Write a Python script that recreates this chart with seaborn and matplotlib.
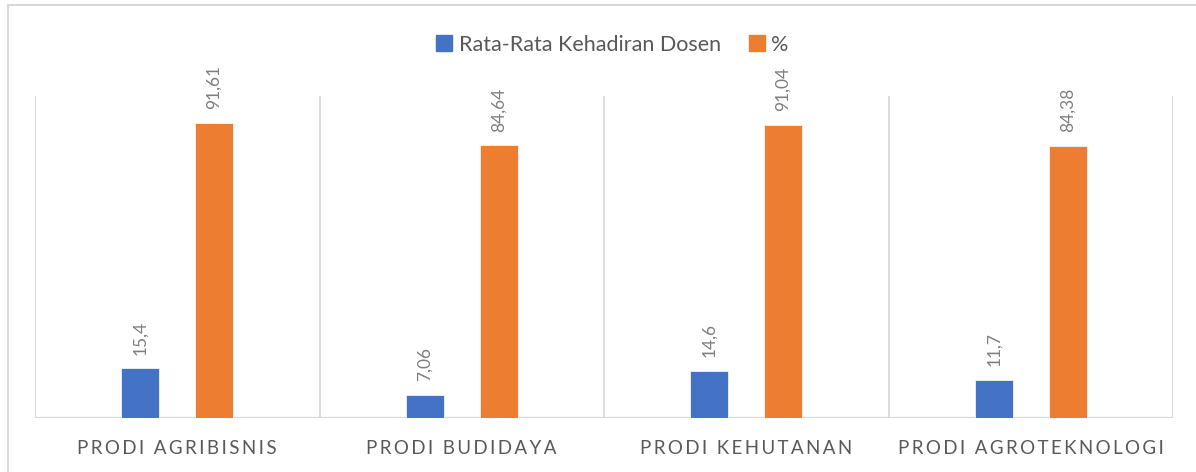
import matplotlib
matplotlib.use('Agg')
import matplotlib.pyplot as plt
from matplotlib.lines import Line2D
import seaborn as sns
import pandas as pd

# data
categories = ['PRODI AGRIBISNIS', 'PRODI BUDIDAYA', 'PRODI KEHUTANAN', 'PRODI AGROTEKNOLOGI']
series_names = ['Rata-Rata Kehadiran Dosen', '%']
kehadiran = [15.4, 7.06, 14.6, 11.7]
persen = [91.61, 84.64, 91.04, 84.38]
colors = ['#4472C4', '#ED7D31']

df = pd.DataFrame({
    'Prodi': categories * 2,
    'Seri': [series_names[0]] * 4 + [series_names[1]] * 4,
    'Nilai': kehadiran + persen,
})

sns.set_style('white')
plt.rcParams['font.family'] = ['Lato', 'DejaVu Sans']

fig = plt.figure(figsize=(11.96, 4.72), dpi=100)
ax = fig.add_axes([35 / 1196, 54 / 472, (1173 - 35) / 1196, (418 - 96) / 472])

sns.barplot(data=df, x='Prodi', y='Nilai', hue='Seri', hue_order=series_names,
            palette=colors, saturation=1, width=0.52, gap=0.48,
            edgecolor='#f4f4f4', linewidth=0.6, ax=ax, legend=False)

# data labels, comma decimals
for cont in ax.containers:
    labels = [f'{b.get_height():g}'.replace('.', ',') for b in cont]
    ax.bar_label(cont, labels=labels, rotation=90, padding=10,
                 color='#7f7f7f', fontsize=12.5)

ax.set_ylim(0, 100)
ax.set_xlim(-0.5, 3.5)
for xv in [-0.5, 0.5, 1.5, 2.5, 3.5]:
    ax.axvline(xv, color='#d9d9d9', lw=1.3, zorder=0)
ax.axhline(0, color='#d9d9d9', lw=1.6, zorder=0)

for s in ax.spines.values():
    s.set_visible(False)
ax.set_yticks([])
ax.set_ylabel('')
ax.set_xlabel('')
ax.set_xticks(range(len(categories)))
ax.set_xticklabels(['\u2009'.join(list(c)) for c in categories],
                   fontsize=13.5, color='#595959')
ax.tick_params(axis='x', length=0, pad=16)

# legend
handles = [plt.Rectangle((0, 0), 1, 1, color=c) for c in colors]
fig.legend(handles, series_names, loc='center', bbox_to_anchor=(0.512, 0.905),
           ncol=2, frameon=False, fontsize=15.5, handlelength=0.75, handleheight=0.75,
           handletextpad=0.3, columnspacing=1.3, labelcolor='#595959')

# chart border (left and top visible)
x0, y0 = 8 / 1196, 1 - 5 / 472
fig.add_artist(Line2D([x0, x0, 1], [0, y0, y0], transform=fig.transFigure,
                      color='#d9d9d9', lw=1.5))

fig.savefig('out.png', dpi=100)
